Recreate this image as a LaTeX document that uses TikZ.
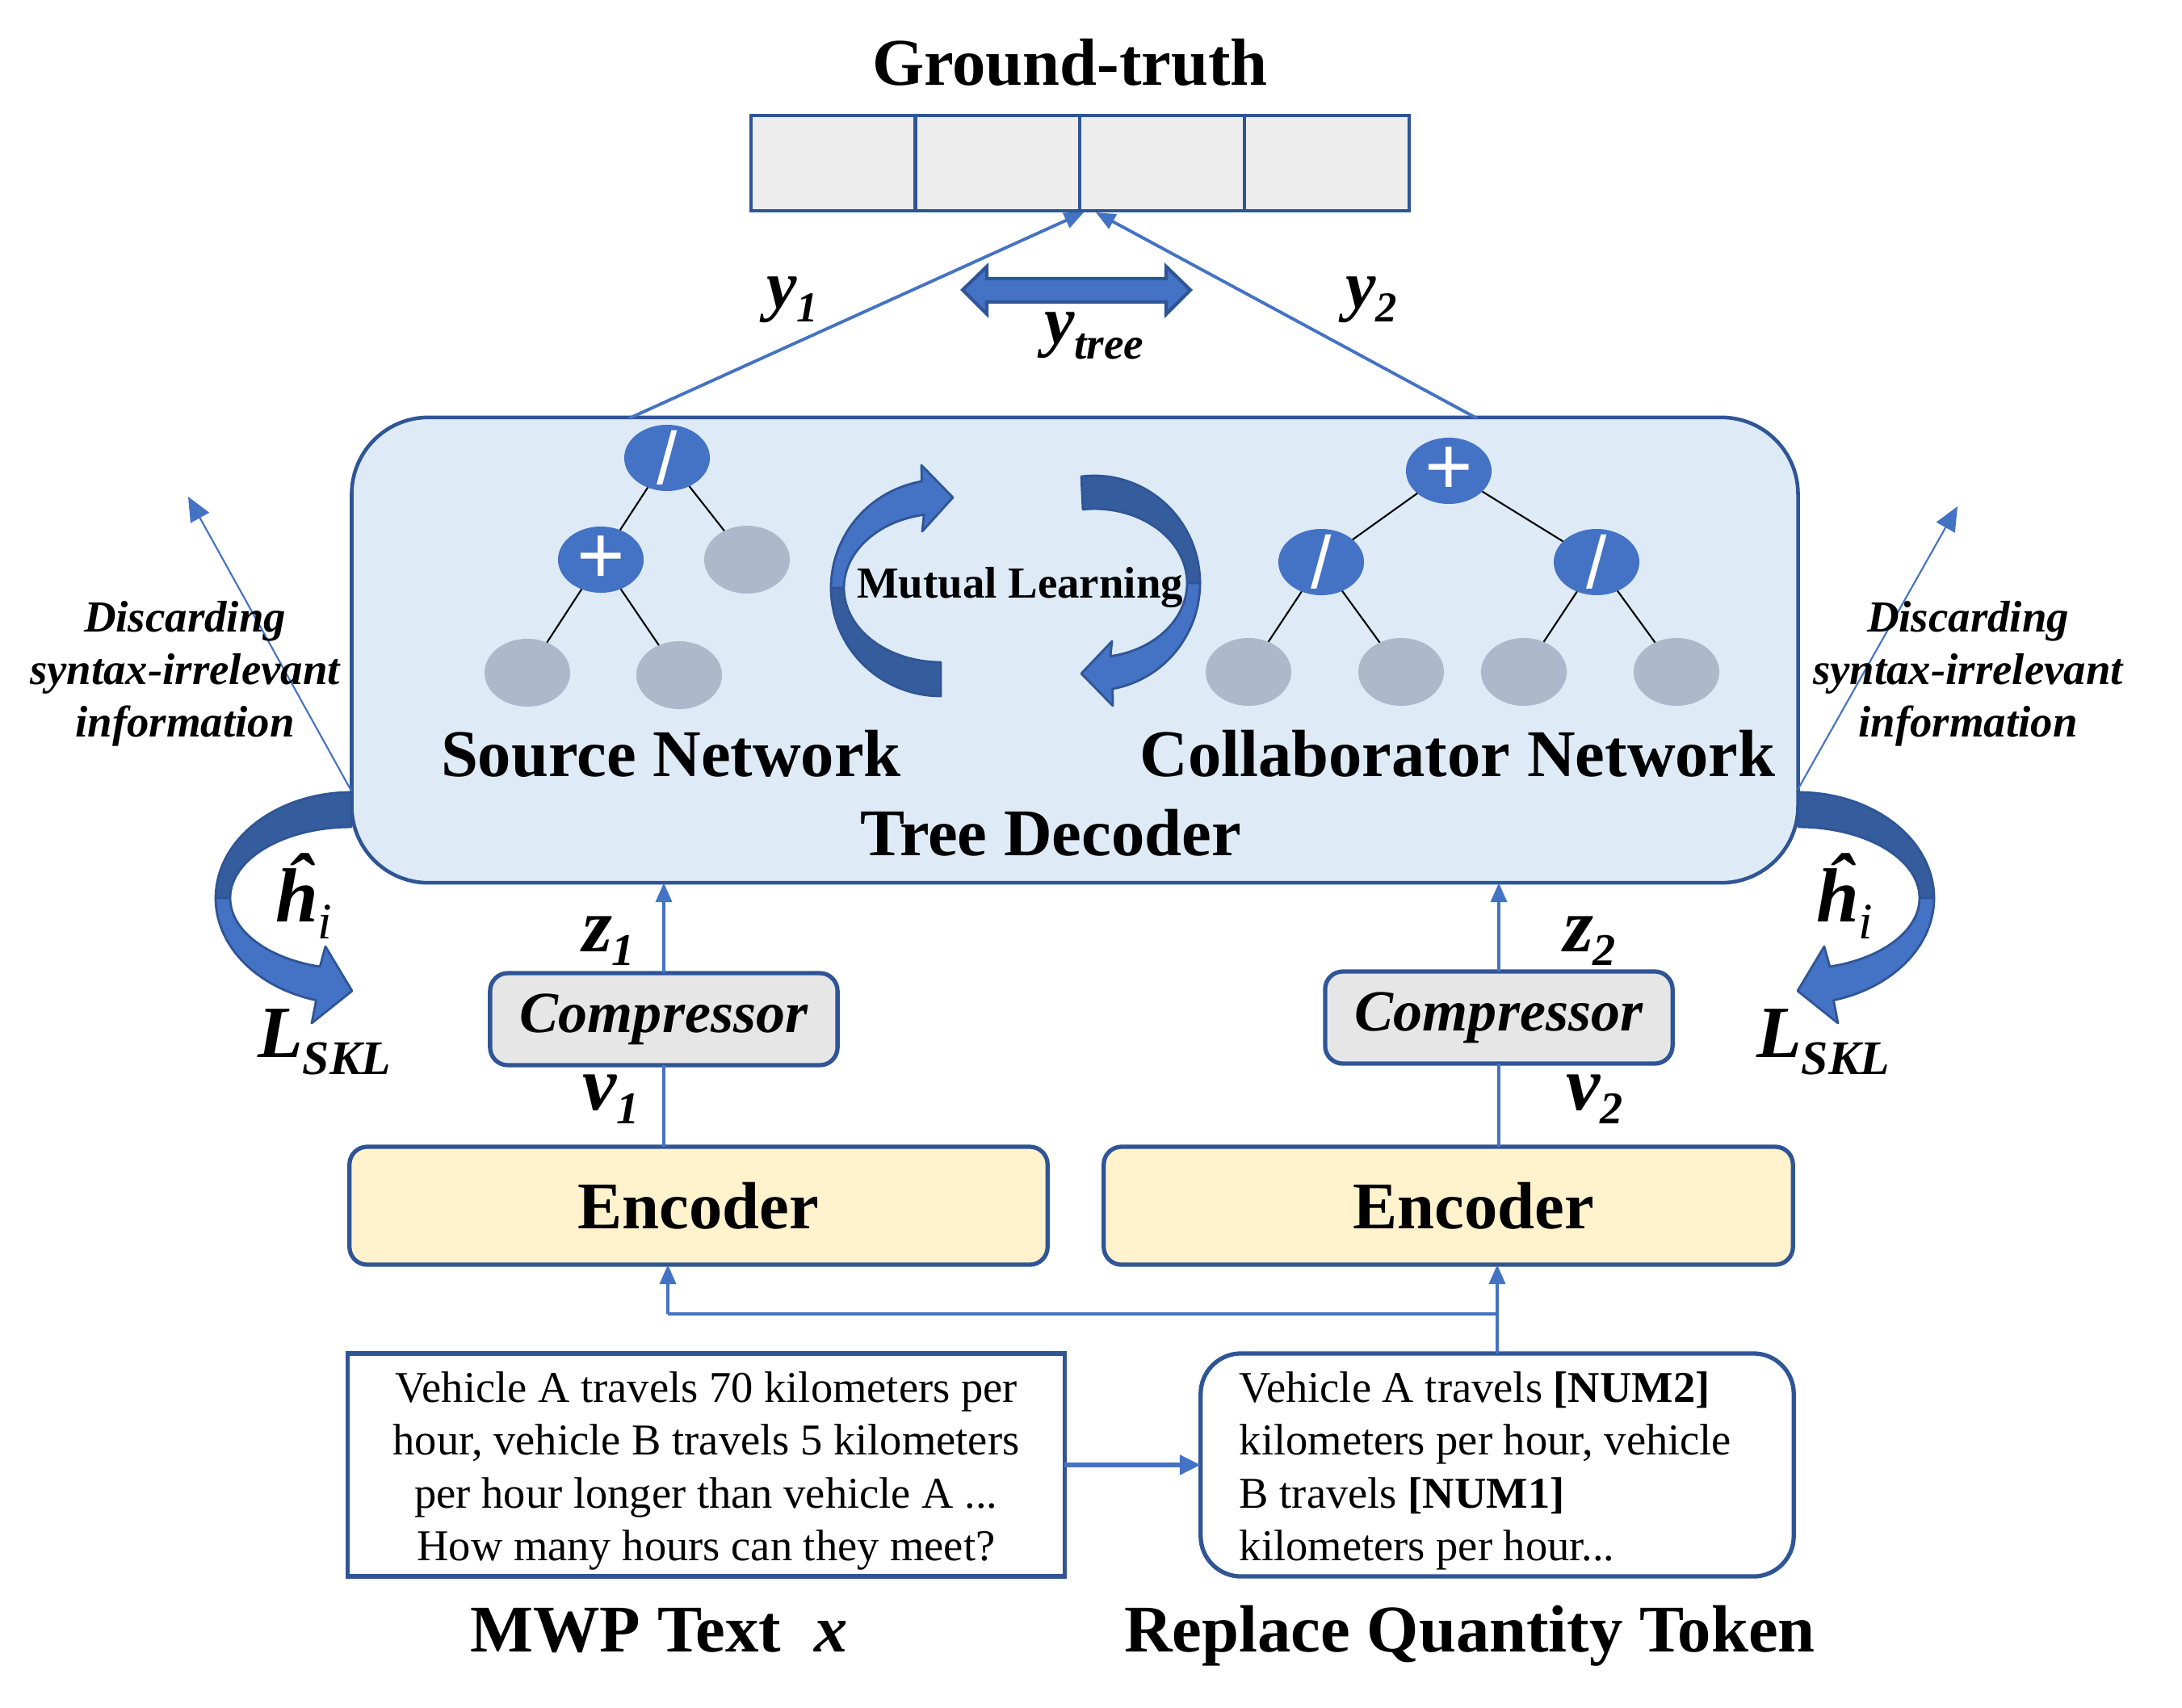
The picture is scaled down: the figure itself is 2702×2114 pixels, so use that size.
\documentclass[tikz,border=0pt]{standalone}
\usepackage{fontspec}
\setmainfont{Liberation Serif}
\newfontfamily\opfont{Liberation Sans}
\usetikzlibrary{shapes.geometric,arrows.meta,calc}
\definecolor{dblue}{HTML}{2F5597}
\definecolor{mblue}{HTML}{4472C4}
\definecolor{darkarc}{HTML}{355C9C}
\definecolor{decfill}{HTML}{DEEBF7}
\definecolor{cellfill}{HTML}{EDEDED}
\definecolor{compfill}{HTML}{E6E6E6}
\definecolor{encfill}{HTML}{FFF2CC}
\definecolor{leafcol}{HTML}{ADB9CA}
\tikzset{
  every node/.style={inner sep=0pt, outer sep=0pt},
  bigtxt/.style={font=\fontsize{23.5}{28}\selectfont\bfseries},
  midtxt/.style={font=\fontsize{15.6}{18.6}\selectfont\bfseries},
  discardtxt/.style={font=\fontsize{15.6}{18.6}\selectfont\bfseries\itshape},
  bodytxt/.style={font=\fontsize{15.5}{18.65}\selectfont},
  cellbox/.style={draw=dblue, fill=cellfill, line width=1.3pt, minimum width=2.04cm, minimum height=1.18cm},
  decoderbox/.style={draw=dblue, fill=decfill, line width=1.3pt, rounded corners=0.95cm, minimum width=17.9cm, minimum height=5.76cm},
  compbox/.style={draw=dblue, fill=compfill, line width=1.5pt, rounded corners=0.22cm, minimum width=4.3cm, minimum height=1.14cm, font=\fontsize{20.5}{24}\selectfont\bfseries\itshape},
  encbox/.style={draw=dblue, fill=encfill, line width=1.5pt, rounded corners=0.22cm, minimum height=1.46cm, font=\fontsize{23.5}{28}\selectfont\bfseries},
  opnode/.style={ellipse, fill=mblue, minimum width=1.06cm, minimum height=0.82cm},
  leafnode/.style={ellipse, fill=leafcol, minimum width=1.06cm, minimum height=0.84cm},
  opsym/.style={text=white, font=\opfont\fontsize{26}{26}\selectfont},
  plussym/.style={text=white, font=\opfont\fontsize{29}{29}\selectfont},
  treeedge/.style={line width=0.6pt, draw=black},
  conn/.style={draw=mblue, line width=1.1pt, -{Triangle[length=0.24cm,width=0.2cm]}},
  plainline/.style={draw=mblue, line width=1.1pt},
  thickconn/.style={draw=mblue, line width=1.5pt, -{Triangle[length=0.26cm,width=0.24cm]}},
  discardline/.style={draw=mblue, line width=0.6pt, -{Triangle[length=0.3cm,width=0.26cm]}},
  varlab/.style={anchor=base west, font=\fontsize{27}{27}\selectfont\bfseries\itshape},
  ylab/.style={anchor=base west, font=\fontsize{24}{24}\selectfont\bfseries\itshape},
  hlab/.style={anchor=base west, font=\fontsize{27}{27}\selectfont\bfseries\itshape},
  darkband/.style={fill=darkarc, draw=dblue, line width=0.8pt, line join=round},
  lightband/.style={fill=mblue, draw=dblue, line width=0.8pt, line join=round},
}
\begin{document}
\begin{tikzpicture}[x=0.01cm, y=-0.01cm]
\fill[white] (0,0) rectangle (2702,2114);
\useasboundingbox (0,0) rectangle (2702,2114);

% ---------------- Ground truth ----------------
\node[bigtxt, anchor=base] (gttitle) at (1325,105) {Ground-truth};
\node[cellbox] (g1) at (1032,202) {};
\node[cellbox] (g2) at (1235.5,202) {};
\node[cellbox] (g3) at (1439,202) {};
\node[cellbox] (g4) at (1643,202) {};
\coordinate (gin1) at (1342,263);
\coordinate (gin2) at (1357,263);

% ---------------- Tree decoder ----------------
\node[decoderbox] (dec) at (1331,805) {};
\coordinate (dout1) at (779,518);
\coordinate (dout2) at (1829,518);
\draw[conn] (dout1) -- (gin1);
\draw[conn] (dout2) -- (gin2);

% y-tree double arrow
\filldraw[fill=mblue, draw=dblue, line width=1.2pt, line join=miter]
  (1192,359) -- (1222,330) -- (1222,345) -- (1444,345) -- (1444,330) -- (1474,359)
  -- (1444,389) -- (1444,374) -- (1222,374) -- (1222,389) -- cycle;

\node[ylab] (ly1) at (949,381) {y\raisebox{-5pt}{\fontsize{15}{15}\selectfont 1}};
\node[ylab] (ly2) at (1666,381) {y\raisebox{-5pt}{\fontsize{15}{15}\selectfont 2}};
\node[ylab] (lyt) at (1293,425) {y\raisebox{-5.5pt}{\fontsize{15.7}{15.7}\selectfont tree}};

% source tree
\node[opnode, label={[opsym]center:/}] (s1) at (826,567) {};
\node[opnode, label={[plussym]center:+}] (s2) at (744,693) {};
\node[leafnode] (s3) at (925,693) {};
\node[leafnode] (s4) at (653,833) {};
\node[leafnode] (s5) at (841,836) {};
\draw[treeedge] (s1) -- (s2);
\draw[treeedge] (s1) -- (s3);
\draw[treeedge] (s2) -- (s4);
\draw[treeedge] (s2) -- (s5);

% collaborator tree
\node[opnode, label={[plussym]center:+}] (c1) at (1794,583) {};
\node[opnode, label={[opsym]center:/}] (c2) at (1636,696) {};
\node[opnode, label={[opsym]center:/}] (c3) at (1977,696) {};
\node[leafnode] (c4) at (1546,832) {};
\node[leafnode] (c5) at (1735,832) {};
\node[leafnode] (c6) at (1887,832) {};
\node[leafnode] (c7) at (2076,832) {};
\draw[treeedge] (c1) -- (c2);
\draw[treeedge] (c1) -- (c3);
\draw[treeedge] (c2) -- (c4);
\draw[treeedge] (c2) -- (c5);
\draw[treeedge] (c3) -- (c6);
\draw[treeedge] (c3) -- (c7);

% mutual learning arrows
\filldraw[darkband]
  plot[domain=90:180, samples=30] ({1165+136*cos(\x)},{728+134*sin(\x)})
  -- plot[domain=180:90, samples=30] ({1165+120*cos(\x)},{728+92*sin(\x)}) -- cycle;
\filldraw[lightband]
  plot[domain=180:260, samples=30] ({1165+136*cos(\x)},{728+134*sin(\x)})
  -- (1141,576) -- (1180,616) -- (1142,658)
  -- plot[domain=260:180, samples=30] ({1165+120*cos(\x)},{728+92*sin(\x)}) -- cycle;
\filldraw[darkband]
  plot[domain=263:360, samples=30] ({1355+131*cos(\x)},{722+133*sin(\x)})
  -- plot[domain=360:263, samples=30] ({1355+115*cos(\x)},{722+92*sin(\x)}) -- cycle;
\filldraw[lightband]
  plot[domain=0:80, samples=30] ({1355+131*cos(\x)},{722+133*sin(\x)})
  -- (1378,874) -- (1339,834) -- (1377,794)
  -- plot[domain=80:0, samples=30] ({1355+115*cos(\x)},{722+92*sin(\x)}) -- cycle;
\node[midtxt, anchor=base] (mutual) at (1263,740) {Mutual Learning};

\node[bigtxt, anchor=base] (srcnet) at (831,961) {Source Network};
\node[bigtxt, anchor=base] (colnet) at (1805,961) {Collaborator Network};
\node[bigtxt, anchor=base] (treedec) at (1301,1059) {Tree Decoder};

% ---------------- left side: discard + h hat ----------------
\coordinate (dl0) at (436,981);
\coordinate (dl1) at (233,615);
\draw[discardline] (dl0) -- (dl1);
\node[discardtxt, anchor=base] (dlt1) at (229,782) {Discarding};
\node[discardtxt, anchor=base] (dlt2) at (229,847) {syntax-irrelevant};
\node[discardtxt, anchor=base] (dlt3) at (229,912) {information};

\filldraw[darkband]
  plot[domain=270:180, samples=30] ({435+168*cos(\x)},{1112+131*sin(\x)})
  -- plot[domain=180:270, samples=30] ({435+150*cos(\x)},{1112+88*sin(\x)}) -- cycle;
\filldraw[lightband]
  plot[domain=180:105, samples=30] ({435+168*cos(\x)},{1112+131*sin(\x)})
  -- (386,1267) -- (436,1227) -- (403,1172)
  -- plot[domain=105:180, samples=30] ({435+150*cos(\x)},{1112+88*sin(\x)}) -- cycle;
\node[hlab] (hl) at (341,1141) {ĥ\raisebox{-6pt}{\fontsize{18}{18}\selectfont\mdseries i}};
\node[anchor=base west, font=\fontsize{26}{26}\selectfont\bfseries\itshape] (ll) at (319,1309) {L\raisebox{-6pt}{\fontsize{17}{17}\selectfont SKL}};

% ---------------- right side ----------------
\coordinate (dr0) at (2226,978);
\coordinate (dr1) at (2424,627);
\draw[discardline] (dr0) -- (dr1);
\node[discardtxt, anchor=base] (drt1) at (2437,782) {Discarding};
\node[discardtxt, anchor=base] (drt2) at (2437,847) {syntax-irrelevant};
\node[discardtxt, anchor=base] (drt3) at (2437,912) {information};

\filldraw[darkband]
  plot[domain=270:180, samples=30] ({2227-168*cos(\x)},{1112+131*sin(\x)})
  -- plot[domain=180:270, samples=30] ({2227-150*cos(\x)},{1112+88*sin(\x)}) -- cycle;
\filldraw[lightband]
  plot[domain=180:105, samples=30] ({2227-168*cos(\x)},{1112+131*sin(\x)})
  -- (2276,1267) -- (2226,1227) -- (2259,1172)
  -- plot[domain=105:180, samples=30] ({2227-150*cos(\x)},{1112+88*sin(\x)}) -- cycle;
\node[hlab] (hr) at (2249,1141) {ĥ\raisebox{-6pt}{\fontsize{18}{18}\selectfont\mdseries i}};
\node[anchor=base west, font=\fontsize{26}{26}\selectfont\bfseries\itshape] (lr) at (2175,1309) {L\raisebox{-6pt}{\fontsize{17}{17}\selectfont SKL}};

% ---------------- compressors and encoders ----------------
\node[compbox] (comp1) at (822,1262) {Compressor};
\node[compbox] (comp2) at (1856,1260) {Compressor};
\node[encbox, minimum width=8.64cm] (enc1) at (865,1493) {Encoder};
\node[encbox, minimum width=8.53cm] (enc2) at (1793.5,1493) {\hspace*{0.62cm}Encoder};

\draw[conn] (comp1.north) -- (comp1.north |- dec.south);
\draw[conn] (comp2.north) -- (comp2.north |- dec.south);
\draw[plainline] (comp1.south) -- (comp1.south |- enc1.north);
\draw[plainline] (comp2.south) -- (comp2.south |- enc2.north);

\node[varlab] (lz1) at (721,1178) {z\raisebox{-5pt}{\fontsize{16}{16}\selectfont 1}};
\node[varlab] (lv1) at (721,1374) {v\raisebox{-5pt}{\fontsize{16}{16}\selectfont 1}};
\node[varlab] (lz2) at (1936,1178) {z\raisebox{-5pt}{\fontsize{16}{16}\selectfont 2}};
\node[varlab] (lv2) at (1939,1374) {v\raisebox{-5pt}{\fontsize{16}{16}\selectfont 2}};

% ---------------- input texts ----------------
\node[draw=dblue, line width=1.5pt, fill=white, minimum width=8.87cm, minimum height=2.76cm,
      bodytxt, align=center] (mwp) at (874.5,1814)
  {\rule{0pt}{15pt}Vehicle A travels 70 kilometers per\\hour, vehicle B travels 5 kilometers\\per hour longer than vehicle A ...\\How many hours can they meet?};
\node[draw=dblue, line width=1.5pt, fill=white, rounded corners=0.5cm, minimum height=2.76cm,
      text width=6.38cm, inner xsep=0.48cm, bodytxt, align=flush left] (rep) at (1854,1814)
  {\rule{0pt}{15pt}Vehicle A travels \textbf{[NUM2]}\\kilometers per hour, vehicle\\B travels \textbf{[NUM1]}\\kilometers per hour...};

\draw[thickconn] (mwp.east) -- (rep.west);

\coordinate (jn) at (1854,1627);
\coordinate (jl) at (827,1627);
\draw[conn] (rep.north) -- (rep.north |- enc2.south);
\draw[plainline, line width=1.4pt] (jn) -- (jl);
\draw[conn] (jl) -- (jl |- enc1.south);

\node[bigtxt, anchor=base] (mwplab) at (816,2045) {MWP Text\ \ \textit{x}};
\node[bigtxt, anchor=base] (replab) at (1820,2045) {Replace Quantity Token};
\end{tikzpicture}
\end{document}
